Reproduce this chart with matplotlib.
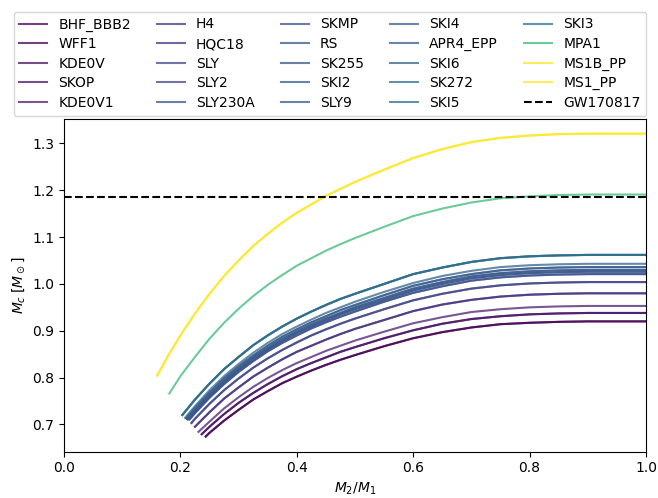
import numpy as np
import matplotlib
matplotlib.use('Agg')
import matplotlib.pyplot as plt

# shared mass-ratio grid for the tail of every curve
q_tail = [0.25, 0.275, 0.30, 0.325, 0.35, 0.375, 0.40, 0.425, 0.45, 0.475, 0.50,
          0.55, 0.60, 0.65, 0.70, 0.75, 0.80, 0.85, 0.90, 1.00]

# each curve: starting points (q, Mc) before q=0.25, then Mc on q_tail
curve_head_q = {
    'c0920': [0.2434],
    'c0938': [0.2366],
    'c0953': [0.231],
    'c0980': [0.225],
    'c1004': [0.219, 0.225],
    'c1021': [0.216, 0.225],
    'c1026': [0.214, 0.225],
    'c1030': [0.212, 0.225],
    'c1036': [0.210, 0.225],
    'c1043': [0.208, 0.225],
    'c1062': [0.2033, 0.225],
    'c1191': [0.181, 0.20, 0.225],
    'c1321': [0.160, 0.18, 0.20, 0.225],
}
curve_head_mc = {
    'c0920': [0.674],
    'c0938': [0.679],
    'c0953': [0.684],
    'c0980': [0.695],
    'c1004': [0.703, 0.712],
    'c1021': [0.711, 0.724],
    'c1026': [0.711, 0.727],
    'c1030': [0.711, 0.730],
    'c1036': [0.713, 0.735],
    'c1043': [0.714, 0.739],
    'c1062': [0.720, 0.753],
    'c1191': [0.766, 0.803, 0.844],
    'c1321': [0.804, 0.849, 0.890, 0.937],
}
curve_tail_mc = {
    'c0920': [0.682, 0.708, 0.731, 0.753, 0.771, 0.788, 0.802, 0.815, 0.827, 0.838, 0.848,
              0.867, 0.884, 0.897, 0.907, 0.914, 0.917, 0.919, 0.920, 0.920],
    'c0938': [0.695, 0.722, 0.746, 0.767, 0.786, 0.803, 0.818, 0.831, 0.843, 0.855, 0.865,
              0.884, 0.901, 0.915, 0.925, 0.931, 0.935, 0.937, 0.938, 0.938],
    'c0953': [0.706, 0.734, 0.758, 0.780, 0.799, 0.816, 0.831, 0.844, 0.857, 0.868, 0.879,
              0.898, 0.916, 0.929, 0.940, 0.946, 0.950, 0.952, 0.953, 0.953],
    'c0980': [0.726, 0.755, 0.779, 0.802, 0.821, 0.839, 0.855, 0.868, 0.881, 0.893, 0.904,
              0.923, 0.942, 0.956, 0.966, 0.973, 0.977, 0.979, 0.980, 0.980],
    'c1004': [0.744, 0.773, 0.798, 0.821, 0.841, 0.859, 0.875, 0.890, 0.903, 0.915, 0.926,
              0.946, 0.965, 0.979, 0.990, 0.997, 1.001, 1.003, 1.004, 1.004],
    'c1021': [0.757, 0.786, 0.812, 0.835, 0.856, 0.874, 0.890, 0.905, 0.918, 0.930, 0.941,
              0.962, 0.981, 0.995, 1.007, 1.014, 1.018, 1.020, 1.021, 1.021],
    'c1026': [0.760, 0.790, 0.816, 0.839, 0.860, 0.878, 0.895, 0.909, 0.922, 0.935, 0.946,
              0.966, 0.986, 1.000, 1.012, 1.019, 1.023, 1.025, 1.026, 1.026],
    'c1030': [0.763, 0.793, 0.819, 0.843, 0.863, 0.882, 0.898, 0.913, 0.926, 0.938, 0.950,
              0.970, 0.990, 1.004, 1.016, 1.023, 1.027, 1.029, 1.030, 1.030],
    'c1036': [0.768, 0.798, 0.824, 0.847, 0.868, 0.887, 0.903, 0.918, 0.931, 0.944, 0.955,
              0.976, 0.996, 1.010, 1.021, 1.029, 1.033, 1.035, 1.036, 1.036],
    'c1043': [0.773, 0.803, 0.829, 0.853, 0.874, 0.893, 0.909, 0.924, 0.938, 0.950, 0.962,
              0.983, 1.002, 1.017, 1.028, 1.036, 1.040, 1.042, 1.043, 1.043],
    'c1062': [0.787, 0.818, 0.844, 0.869, 0.890, 0.909, 0.926, 0.941, 0.955, 0.968, 0.979,
              1.000, 1.021, 1.035, 1.047, 1.055, 1.059, 1.061, 1.062, 1.062],
    'c1191': [0.883, 0.917, 0.947, 0.974, 0.998, 1.019, 1.039, 1.055, 1.071, 1.085, 1.098,
              1.122, 1.145, 1.161, 1.174, 1.183, 1.187, 1.190, 1.191, 1.191],
    'c1321': [0.979, 1.017, 1.050, 1.081, 1.107, 1.131, 1.152, 1.170, 1.188, 1.203, 1.218,
              1.244, 1.269, 1.288, 1.303, 1.312, 1.317, 1.320, 1.321, 1.321],
}

eos_names = ['BHF_BBB2', 'WFF1', 'KDE0V', 'SKOP', 'KDE0V1', 'H4', 'HQC18', 'SLY',
             'SLY2', 'SLY230A', 'SKMP', 'RS', 'SK255', 'SKI2', 'SLY9', 'SKI4',
             'APR4_EPP', 'SKI6', 'SK272', 'SKI5', 'SKI3', 'MPA1', 'MS1B_PP', 'MS1_PP']
eos_curve = ['c0920', 'c0920', 'c0938', 'c0938', 'c0953', 'c0980', 'c0980', 'c1004',
             'c1004', 'c1021', 'c1021', 'c1026', 'c1026', 'c1030', 'c1030', 'c1036',
             'c1036', 'c1043', 'c1062', 'c1062', 'c1062', 'c1191', 'c1321', 'c1321']

gw_mc = 1.186

fig = plt.figure(figsize=(6.58, 4.98), dpi=100)
ax = fig.add_axes([0.0973, 0.093, 0.8845, 0.669])

ends = [curve_tail_mc[c][-1] for c in eos_curve]
norm = plt.Normalize(min(ends), max(ends))
cmap = plt.get_cmap('viridis')

for name, c in zip(eos_names, eos_curve):
    q = curve_head_q[c] + q_tail
    mc = curve_head_mc[c] + curve_tail_mc[c]
    ax.plot(q, mc, color=cmap(norm(mc[-1])), alpha=0.75, lw=1.5, label=name)

ax.axhline(gw_mc, color='k', ls='--', lw=1.5, label='GW170817')
ax.set_xlim(0, 1)
ax.set_xlabel(r'$M_2/M_1$')
ax.set_ylabel(r'$M_c\;[M_\odot]$')

handles, labels = ax.get_legend_handles_labels()
fig.legend(handles, labels, loc='upper center', bbox_to_anchor=(0.5015, 0.99),
           ncol=5, labelspacing=0.4, columnspacing=1.9)

plt.savefig('out.png')
